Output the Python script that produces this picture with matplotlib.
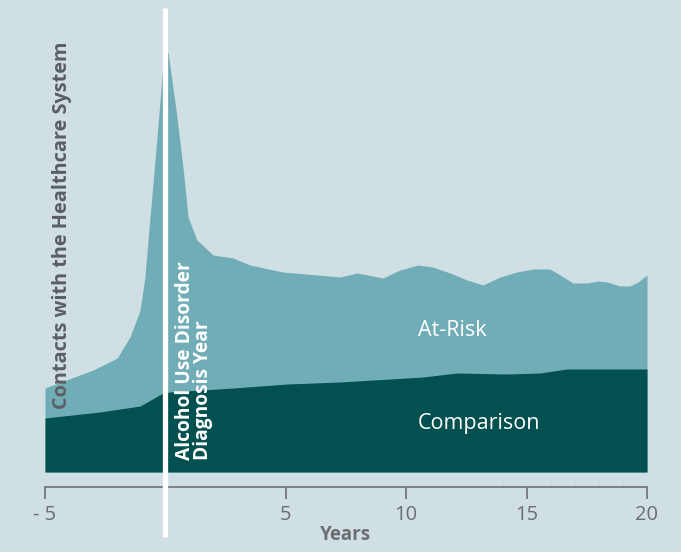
import matplotlib
matplotlib.use("Agg")
import matplotlib.pyplot as plt
import numpy as np

plt.rcParams['font.family'] = ['Open Sans', 'DejaVu Sans']

# At-Risk (total top) outline: years and heights
risk_years = [-5, -4, -3, -2.0, -1.47, -1.05, -0.85, -0.64, -0.43, -0.22, -0.08, 0.11, 0.48, 0.73, 0.94,
              1.31, 1.98, 2.81, 3.51, 4.88, 6.3, 7.25, 7.96, 9.04, 9.74, 10.49, 11.1, 11.82, 12.52,
              13.19, 13.9, 14.6, 15.27, 15.97, 16.39, 16.93, 17.5, 17.97, 18.34, 18.88, 19.29, 19.63, 20]
risk_values = [84, 93, 102, 114, 135, 162, 195, 255, 312, 372, 415, 420, 355, 305, 255,
               232, 217, 214, 207, 200, 197, 195, 199, 194, 202, 207, 205, 199, 192,
               187, 195, 200, 203, 203, 197, 189, 189, 191, 190, 186, 186, 190, 197]

# Comparison outline
comp_years = [-5, -2.72, -1.05, -0.1, 0.19, 2.81, 5.05, 7.25, 9.33, 10.7, 12.1, 14.19, 15.56, 16.68, 18.05, 20]
comp_values = [54, 60, 66, 79, 80, 84, 88, 90, 93, 95, 99, 98, 99, 103, 103, 103]

major_ticks = [-5, 5, 10, 15, 20]
major_labels = ['- 5', '5', '10', '15', '20']

bg = '#cfdfe3'
light = '#71adb7'
dark = '#02504f'
gray = '#6d6e71'

fig = plt.figure(figsize=(6.81, 5.52), dpi=100, facecolor=bg)
ax = fig.add_axes([45/681, (552-472)/552, 602/681, 442/552])
ax.set_facecolor(bg)

ax.fill_between(risk_years, 0, risk_values, color=light, lw=0)
ax.fill_between(comp_years, 0, comp_values, color=dark, lw=0)

ax.set_xlim(-5, 20)
ax.set_ylim(0, 442)

for s in ['top', 'right', 'left']:
    ax.spines[s].set_visible(False)
ax.spines['bottom'].set_position(('outward', 11))
ax.spines['bottom'].set_color('#77787b')
ax.spines['bottom'].set_linewidth(1.3)
ax.set_yticks([])
ax.set_xticks(major_ticks)
ax.set_xticklabels(major_labels)
ax.set_xticks(range(-5, 21), minor=True)
ax.tick_params(axis='x', which='major', length=8.6, width=1.3, color='#77787b',
               labelcolor=gray, labelsize=14.5, pad=4)
ax.tick_params(axis='x', which='minor', length=1.2, width=0.8, color='#a3aaad', direction='in')

ax.set_xlabel('Years', fontsize=13.5, fontweight='bold', color=gray, labelpad=0)

# white diagnosis line
ax.plot([0, 0], [-65, 464], color='white', lw=3.8, clip_on=False, solid_capstyle='butt', zorder=5)

ax.text(0.38, 12, 'Alcohol Use Disorder\nDiagnosis Year', rotation=90, color='white',
        fontsize=13.8, fontweight='bold', ha='left', va='bottom', linespacing=0.9, zorder=6)

ax.text(10.5, 141, 'At-Risk', color='white', fontsize=15.5, ha='left', va='center')
ax.text(10.5, 48, 'Comparison', color='white', fontsize=15.5, ha='left', va='center')

fig.text(62/681, 1 - 225/552, 'Contacts with the Healthcare System', rotation=90,
         color='#5b5f64', fontsize=14.3, fontweight='bold', ha='center', va='center')

fig.savefig('out.png', dpi=100, facecolor=bg)
